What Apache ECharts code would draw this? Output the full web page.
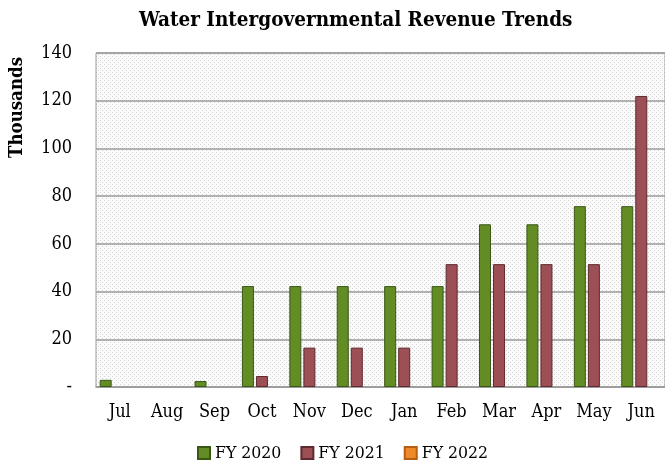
<!DOCTYPE html>
<html>
<head>
<meta charset="utf-8">
<title>Water Intergovernmental Revenue Trends</title>
<script src="https://cdn.jsdelivr.net/npm/echarts@6/dist/echarts.min.js"></script>
<style>
  html, body { margin: 0; padding: 0; background: #fff; }
  #chart { width: 665px; height: 468px; }
</style>
</head>
<body>
<div id="chart"></div>
<script>
// data (thousands)
const months = ['Jul', 'Aug', 'Sep', 'Oct', 'Nov', 'Dec', 'Jan', 'Feb', 'Mar', 'Apr', 'May', 'Jun']
const fy2020 = [3, null, 2.5, 42.3, 42.3, 42.3, 42.3, 42.3, 68.2, 68.2, 75.8, 75.8]
const fy2021 = [null, null, null, 4.6, 16.5, 16.5, 16.5, 51.5, 51.5, 51.5, 51.5, 122]
const fy2022 = [null, null, null, null, null, null, null, null, null, null, null, null]
const seriesNames = ['FY 2020', 'FY 2021', 'FY 2022']

const serif = '"DejaVu Serif Condensed", "Liberation Serif"'

// dotted plot background like the excel fill
function dotPattern() {
  const c = document.createElement('canvas')
  c.width = 4
  c.height = 4
  const ctx = c.getContext('2d')
  ctx.fillStyle = '#fbfbfb'
  ctx.fillRect(0, 0, 4, 4)
  ctx.fillStyle = '#d2d2d2'
  ctx.fillRect(0, 0, 1, 1)
  ctx.fillRect(2, 2, 1, 1)
  return c
}

function barSeries(name, data, color, border) {
  return {
    name: name,
    type: 'bar',
    data: data,
    barWidth: 12,
    barGap: '17%',
    itemStyle: {
      color: color,
      borderColor: border,
      borderWidth: 1
    }
  }
}

const chart = echarts.init(document.getElementById('chart'))
chart.setOption({
  animation: false,
  title: {
    text: 'Water Intergovernmental Revenue Trends',
    left: 134,
    top: 5,
    textStyle: {
      fontFamily: serif,
      fontWeight: 'bold',
      fontSize: 20.5,
      color: '#000'
    }
  },
  graphic: [{
    type: 'text',
    left: 8,
    top: 57,
    rotation: Math.PI / 2,
    style: {
      text: 'Thousands',
      fontFamily: serif,
      fontWeight: 'bold',
      fontSize: 18.5,
      fill: '#000'
    }
  }],
  // plot runs past the right edge of the picture, as in the original
  grid: {
    left: 96,
    width: 576,
    top: 53,
    bottom: 81,
    show: true,
    backgroundColor: { image: dotPattern(), repeat: 'repeat' },
    borderColor: '#9a9a9a',
    borderWidth: 1
  },
  legend: {
    data: seriesNames,
    bottom: 1,
    left: 192,
    icon: 'rect',
    itemWidth: 12,
    itemHeight: 12,
    itemGap: 19,
    textStyle: {
      fontFamily: serif,
      fontSize: 17.5,
      color: '#000'
    }
  },
  xAxis: {
    type: 'category',
    data: months,
    axisTick: { show: false },
    axisLine: { lineStyle: { color: '#9a9a9a', width: 1.5 } },
    axisLabel: {
      margin: 16,
      fontFamily: serif,
      fontSize: 18,
      color: '#000'
    }
  },
  yAxis: {
    type: 'value',
    min: 0,
    max: 140,
    interval: 20,
    axisLine: { show: false },
    axisTick: { show: false },
    axisLabel: {
      margin: 24,
      fontFamily: serif,
      fontSize: 18,
      color: '#000',
      formatter: v => v === 0 ? '-' : v
    },
    splitLine: { lineStyle: { color: '#9a9a9a', width: 1.5 } }
  },
  series: [
    barSeries(seriesNames[0], fy2020, '#638c24', '#3b5716'),
    barSeries(seriesNames[1], fy2021, '#9c4f55', '#5c2a2f'),
    barSeries(seriesNames[2], fy2022, '#ee8a2a', '#b45f12')
  ]
})
</script>
</body>
</html>
